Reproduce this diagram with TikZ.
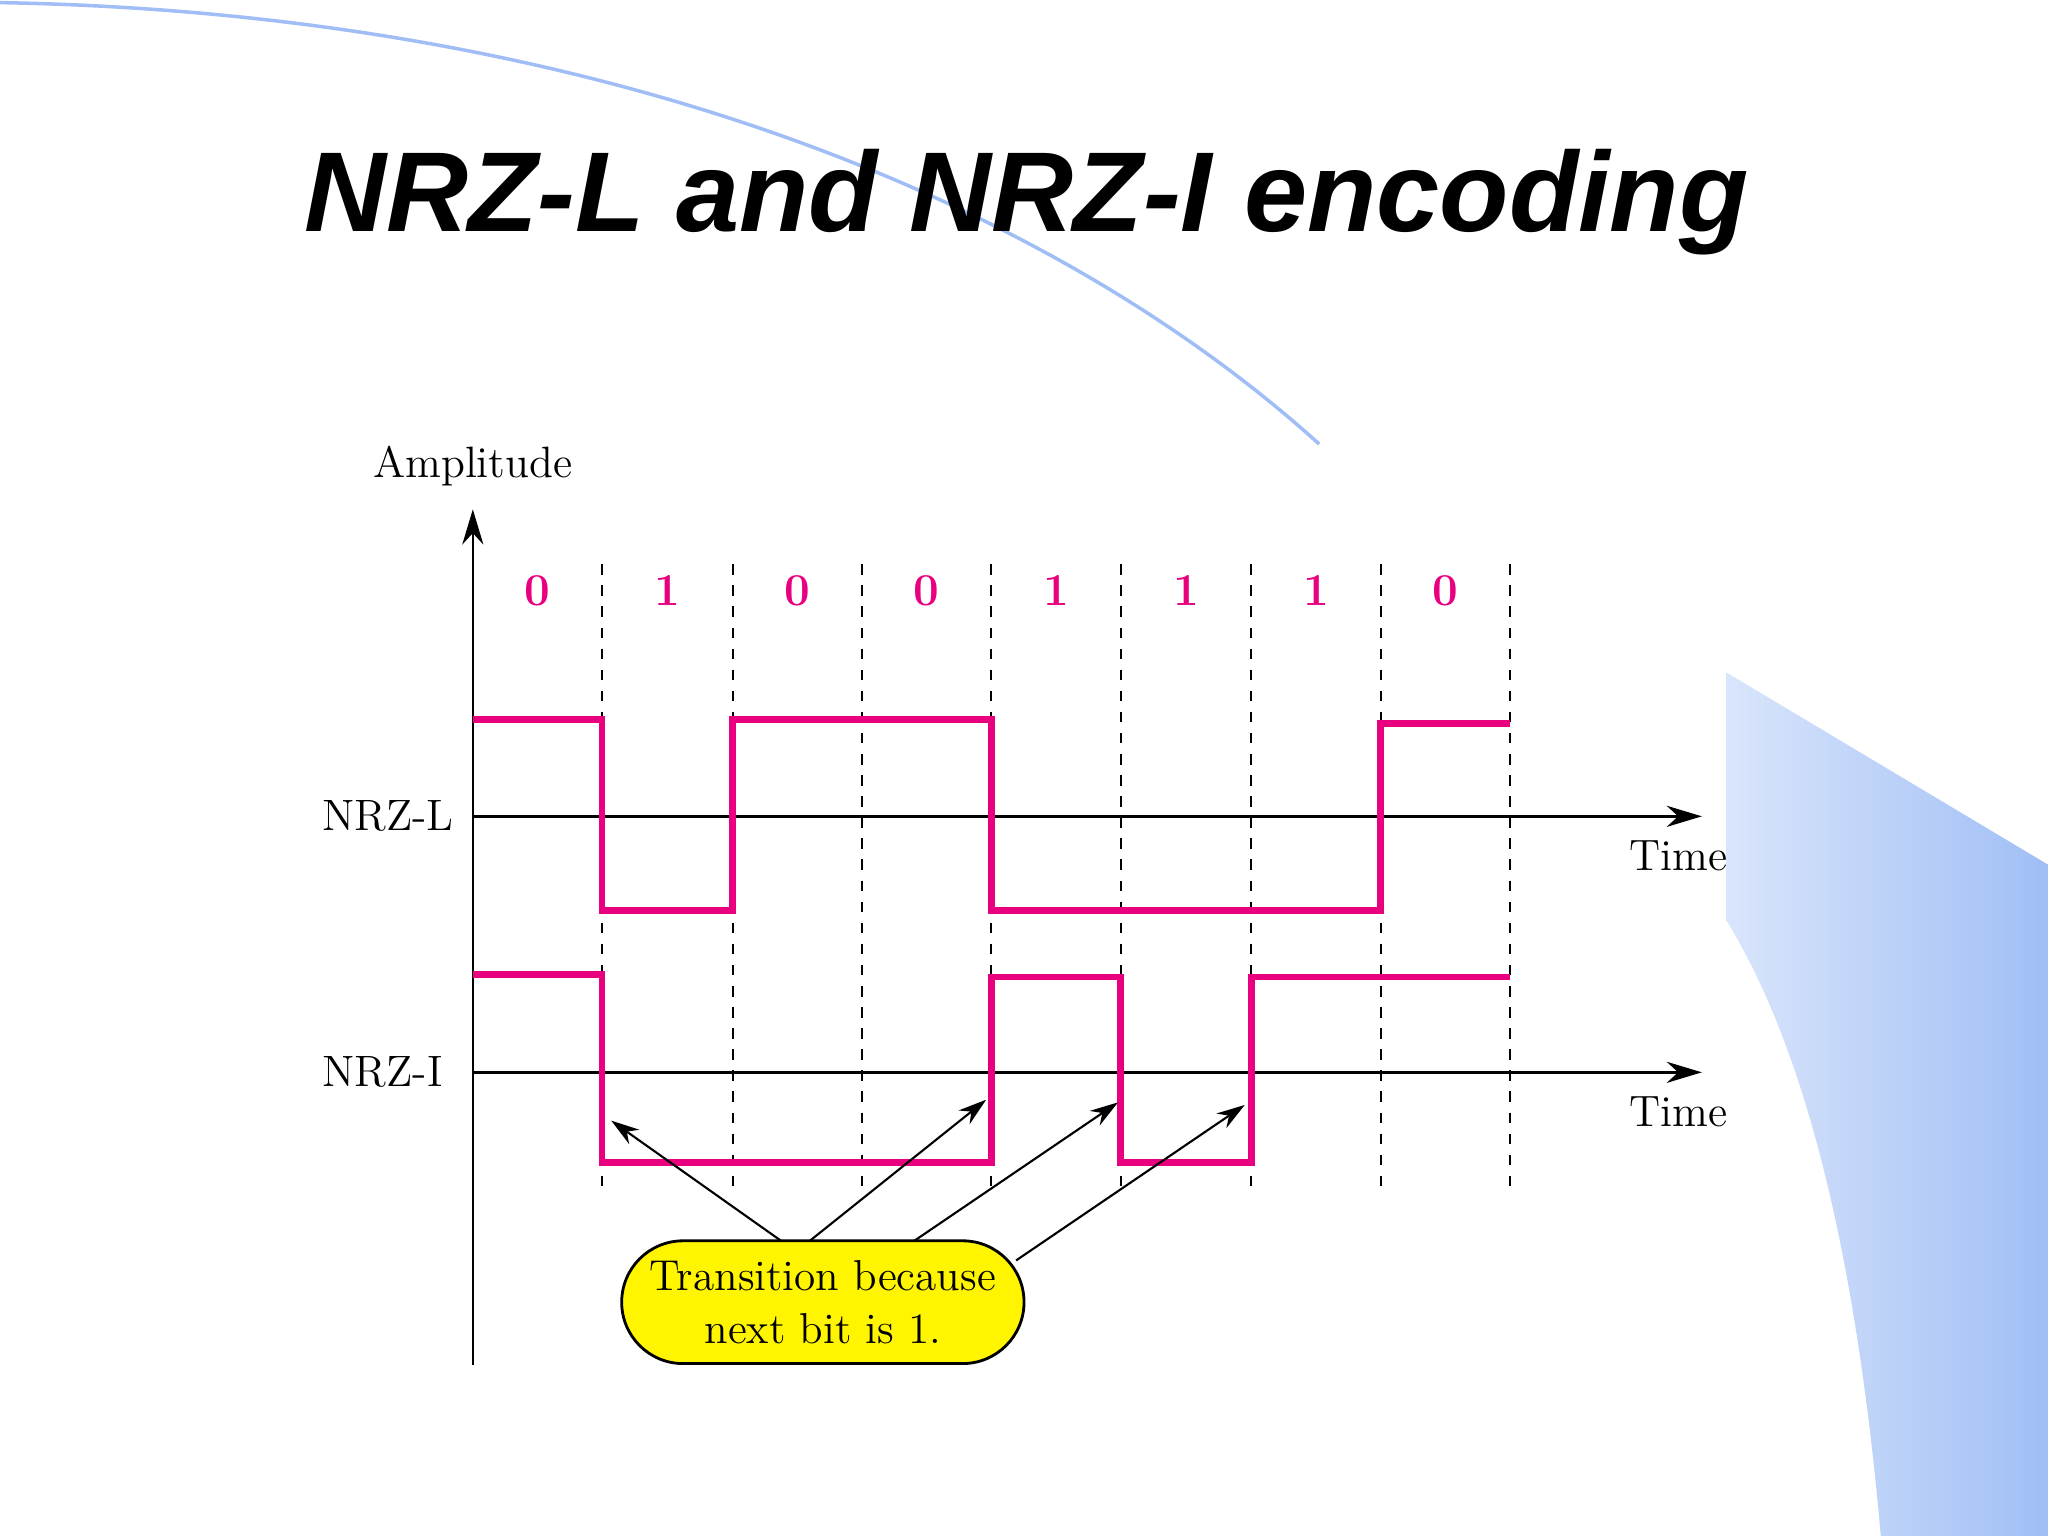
\documentclass[tikz,border=0pt]{standalone}
\usepackage{fontspec}
\newfontfamily\titlefont{Liberation Sans}
\usetikzlibrary{arrows.meta,positioning,shapes.misc}
\definecolor{sigpink}{RGB}{232,0,127}
\definecolor{callyellow}{RGB}{255,245,0}
\definecolor{decoblue}{RGB}{160,190,245}
\tikzset{
  sig/.style={color=sigpink, line width=1.9pt},
  bitlbl/.style={color=sigpink, font=\bfseries\fontsize{13}{15}\selectfont},
  lbl/.style={font=\fontsize{12.5}{15}\selectfont},
  grid/.style={dashed, line width=0.6pt},
  ax/.style={line width=0.7pt, -{Stealth[length=10pt,width=6pt]}}
}
\begin{document}
\begin{tikzpicture}[x=0.01306cm,y=-0.01306cm]
    \useasboundingbox (0,0) rectangle (1568,1176);

    % background decoration
    \draw[decoblue, line width=1pt] (0,2) .. controls (450,10) and (800,150) .. (1010,340);
    \shade[left color=decoblue!40, right color=decoblue] (1322,515) -- (1568,662) -- (1568,1176) -- (1440,1176)
        .. controls (1420,950) and (1380,800) .. (1322,705) -- cycle;

    \node(title) at (786,155) {\titlefont\bfseries\itshape\fontsize{32.3}{36}\selectfont NRZ-L and NRZ-I encoding};

    % axes
    \node(amp) at (362,357)[lbl]{Amplitude};
    \coordinate(a0) at (362,1045);
    \coordinate(a1) at (362,390);
    \draw[ax] (a0) -- (a1);

    \coordinate(l0) at (362,625);
    \coordinate(l1) at (1303,625);
    \draw[ax] (l0) -- (l1);
    \node(nrzl) at (297,625)[lbl]{NRZ-L};
    \node(tl) at (1285,655)[lbl]{Time};

    \coordinate(i0) at (362,821);
    \coordinate(i1) at (1303,821);
    \draw[ax] (i0) -- (i1);
    \node(nrzi) at (293,821)[lbl]{NRZ-I};
    \node(ti) at (1285,851)[lbl]{Time};

    % bit cells
    \foreach \x in {461,561,660,759,858,958,1057,1156}
        \draw[grid] (\x,432) -- (\x,908);
    \foreach \b [count=\i] in {0,1,0,0,1,1,1,0}
        \node[bitlbl] at (362+99.3*\i-49.6,452) {\b};

    % signals
    \draw[sig] (362,551) -- (461,551) -- (461,697) -- (561,697) -- (561,551) -- (759,551)
        -- (759,697) -- (1057,697) -- (1057,554) -- (1156,554);
    \draw[sig] (362,746) -- (461,746) -- (461,890) -- (759,890) -- (759,748) -- (858,748)
        -- (858,890) -- (958,890) -- (958,748) -- (1156,748);

    % callout
    \node(tb) at (630,997)[draw, line width=0.8pt, fill=callyellow, rounded rectangle,
        minimum width=326*0.01306cm, minimum height=94*0.01306cm, align=center,
        font=\fontsize{12.3}{15}\selectfont]{Transition because\\next bit is 1.};
    \coordinate(t1) at (468,858);
    \coordinate(t2) at (755,842);
    \coordinate(t3) at (856,844);
    \coordinate(t4) at (953,846);
    \draw[-{Stealth[length=8pt,width=5pt]}, line width=0.6pt] (598,950) -- (t1);
    \draw[-{Stealth[length=8pt,width=5pt]}, line width=0.6pt] (620,950) -- (t2);
    \draw[-{Stealth[length=8pt,width=5pt]}, line width=0.6pt] (700,950) -- (t3);
    \draw[-{Stealth[length=8pt,width=5pt]}, line width=0.6pt] (778,965) -- (t4);

  \end{tikzpicture}
\end{document}
